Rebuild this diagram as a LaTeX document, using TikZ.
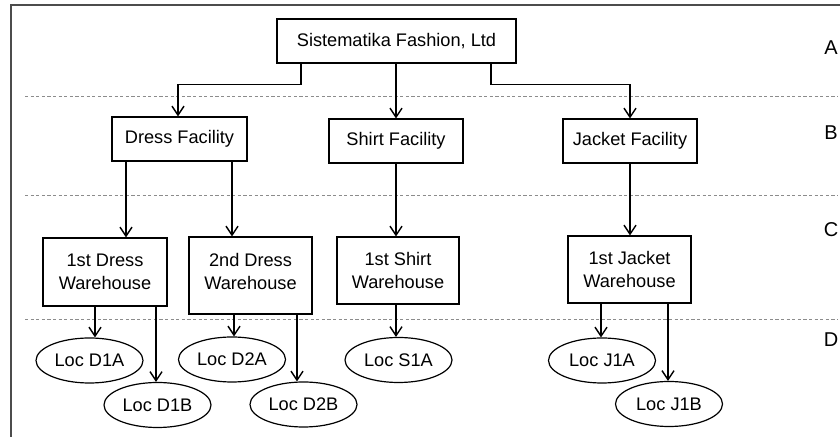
\documentclass[tikz,border=0pt]{standalone}
\usepackage{fontspec}
\setmainfont{Liberation Sans}
\usetikzlibrary{calc,shapes.geometric,arrows.meta}
\tikzset{
  x=0.5pt, y=-0.5pt,
  every node/.style={font=\fontsize{9.1}{11.5}\selectfont, inner sep=0pt},
  box/.style={draw, line width=0.6pt, rectangle, align=center},
  loc/.style={draw, line width=0.6pt, ellipse, minimum width=53.5pt, minimum height=22.5pt},
  arr/.style={line width=0.6pt, -{Straight Barb[length=4.5pt,width=6pt,line width=0.7pt]}},
  sep/.style={draw=black!45, line width=0.5pt, dash pattern=on 1.6pt off 1.2pt},
  frameline/.style={draw=black!70, line width=0.8pt},
  rowlab/.style={font=\fontsize{10}{12}\selectfont}
}
\begin{document}
\begin{tikzpicture}
\useasboundingbox (0,0) rectangle (840,437);
% frame
\coordinate (fbl) at (11,437);
\coordinate (ftl) at (11,5);
\coordinate (ftr) at (840,5);
\draw[frameline] (fbl) -- (ftl) -- (ftr);
% separators
\foreach \yy/\nm in {97/s1,196/s2,320/s3}{
  \coordinate (\nm a) at (25,\yy);
  \coordinate (\nm b) at (838,\yy);
  \draw[sep] (\nm a) -- (\nm b);
}
% row labels
\node[rowlab] (lA) at (831,48) {A};
\node[rowlab] (lB) at (831,133) {B};
\node[rowlab] (lC) at (831,230) {C};
\node[rowlab] (lD) at (831,340) {D};
% level A
\node[box, minimum width=119.5pt, minimum height=22pt] (top) at (396.5,41) {Sistematika Fashion, Ltd};
% level B
\node[box, minimum width=67.5pt, minimum height=22pt] (dress) at (179.5,139) {Dress Facility};
\node[box, minimum width=67pt, minimum height=22pt] (shirt) at (396,141) {Shirt Facility};
\node[box, minimum width=67pt, minimum height=22pt] (jacket) at (630,141) {Jacket Facility};
% level C
\node[box, minimum width=62pt, minimum height=34pt] (w1d) at (105,272) {1st Dress\\Warehouse};
\node[box, minimum width=61.5pt, minimum height=38.5pt] (w2d) at (250.5,275.5) {};
\node (w2dt) at (250.5,271.5) [align=center] {2nd Dress\\Warehouse};
\node[box, minimum width=61pt, minimum height=33.5pt] (w1s) at (398,270.5) {1st Shirt\\Warehouse};
\node[box, minimum width=61.5pt, minimum height=33.5pt] (w1j) at (629.5,269.5) {1st Jacket\\Warehouse};
% level D
\node[loc] (d1a) at (89.5,360.5) {Loc D1A};
\node[loc] (d1b) at (157.5,405) {Loc D1B};
\node[loc] (d2a) at (232,359.5) {Loc D2A};
\node[loc] (d2b) at (303.5,404.5) {Loc D2B};
\node[loc] (s1a) at (398.5,360) {Loc S1A};
\node[loc] (j1a) at (602,360.5) {Loc J1A};
\node[loc] (j1b) at (669,404) {Loc J1B};
% connectors A -> B
\draw[arr] ($(top.south)+(-95.5,0)$) -- ++(0,21) -| ($(dress.north)+(-1.5,0)$);
\draw[arr] (top.south -| shirt.north) -- (shirt.north);
\draw[arr] ($(top.south)+(94.5,0)$) -- ++(0,21) -| (jacket.north);
% B -> C
\coordinate (c1) at ($(dress.south)+(-53.5,0)$);
\coordinate (c2) at ($(dress.south)+(52.5,0)$);
\draw[arr] (c1) -- (c1 |- w1d.north);
\draw[arr] (c2) -- (c2 |- w2d.north);
\draw[arr] (shirt.south) -- (shirt.south |- w1s.north);
\draw[arr] (jacket.south) -- (jacket.south |- w1j.north);
% C -> D
\coordinate (e1) at ($(w1d.south)+(-10,0)$);
\coordinate (e2) at ($(w1d.south)+(51,0)$);
\coordinate (e3) at ($(w2d.south)+(-16.5,0)$);
\coordinate (e4) at ($(w2d.south)+(46.5,0)$);
\coordinate (e5) at ($(w1s.south)+(-2,0)$);
\coordinate (e6) at ($(w1j.south)+(-28.5,0)$);
\coordinate (e7) at ($(w1j.south)+(38.5,0)$);
\draw[arr] (e1) -- (e1 |- d1a.north);
\draw[arr] (e2) -- (e2 |- d1b.north);
\draw[arr] (e3) -- (e3 |- d2a.north);
\draw[arr] (e4) -- (e4 |- d2b.north);
\draw[arr] (e5) -- (e5 |- s1a.north);
\draw[arr] (e6) -- (e6 |- j1a.north);
\draw[arr] (e7) -- (e7 |- j1b.north);
\end{tikzpicture}
\end{document}
